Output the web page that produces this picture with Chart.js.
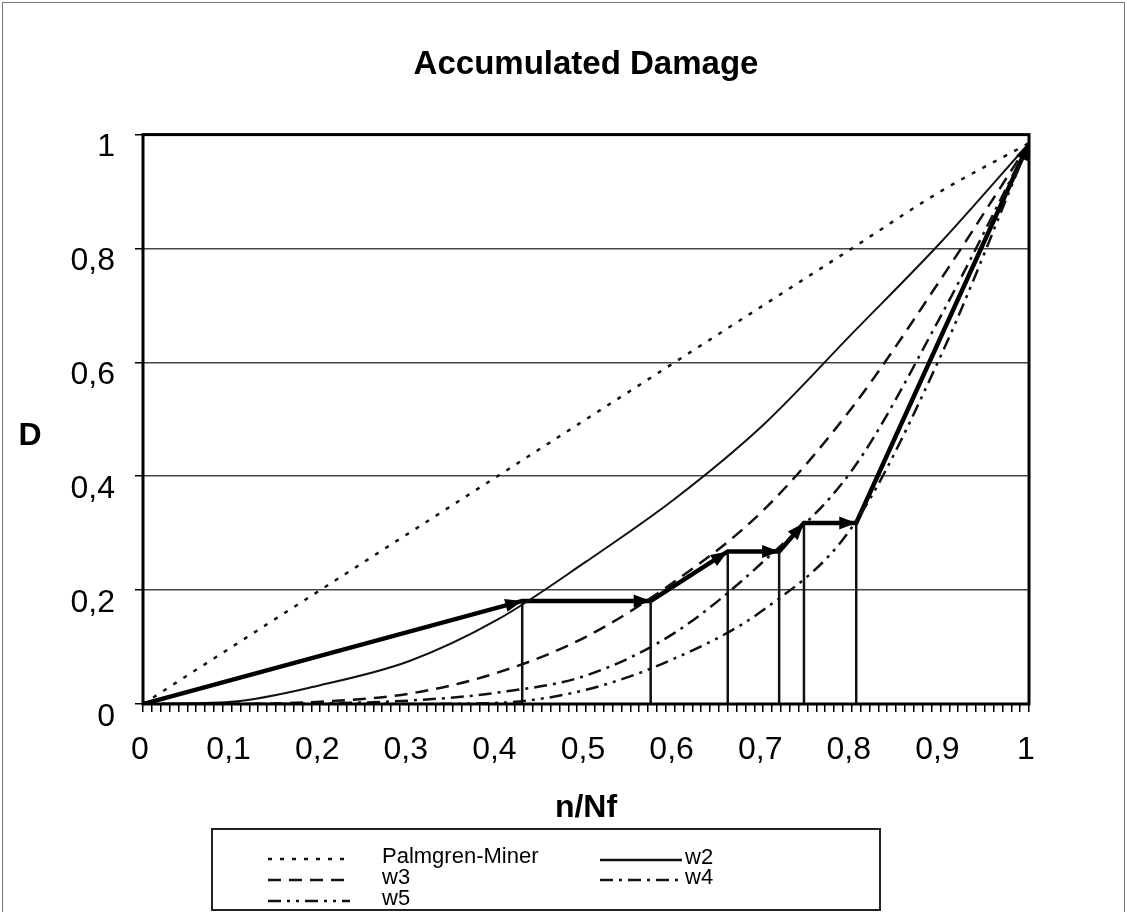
<!DOCTYPE html>
<html>
<head>
<meta charset="utf-8">
<title>Accumulated Damage</title>
<script src="https://cdn.jsdelivr.net/npm/chart.js@4.4.1/dist/chart.umd.min.js"></script>
<style>
  html, body { margin: 0; padding: 0; background: #fff; }
  #wrap { width: 1127px; height: 912px; }
</style>
</head>
<body>
<div id="wrap"><canvas id="damageChart" width="1127" height="912"></canvas></div>
<script>
// n/Nf sample points shared by the damage curves
const ratios = [0, 0.1, 0.2, 0.3, 0.4, 0.5, 0.6, 0.7, 0.8, 0.9, 1];

// damage D
const palmgrenMiner = [0, 0.1, 0.2, 0.3, 0.4, 0.5, 0.6, 0.7, 0.8, 0.9, 0.985];
const w2 = [0, 0.004, 0.033, 0.075, 0.148, 0.25, 0.36, 0.49, 0.65, 0.81, 0.985];
const w3 = [0, 0, 0.004, 0.018, 0.055, 0.118, 0.215, 0.34, 0.52, 0.745, 0.985];
const w4 = [0, 0, 0.001, 0.006, 0.02, 0.05, 0.125, 0.25, 0.41, 0.68, 0.985];
const w5 = [0, 0, 0, 0, 0.002, 0.025, 0.08, 0.165, 0.31, 0.61, 0.985];

// load sequence (bold arrows)
const pathRatios = [0, 0.428, 0.573, 0.66, 0.718, 0.746, 0.805, 1];
const pathDamage = [0, 0.181, 0.181, 0.268, 0.268, 0.318, 0.318, 0.985];

const yTicks = [0, 0.2, 0.4, 0.6, 0.8, 1];
const xMajorStep = 0.1;
const xMinorStep = 0.01;

const FONT = "'Liberation Sans', Arial, sans-serif";
const INK = '#111';

const toPoints = (xs, ys) => xs.map((x, i) => ({ x: x, y: ys[i] }));
const comma = v => {
  const r = Math.round(v * 10) / 10;
  if (r === 0) return '0';
  if (r === 1) return '1';
  return r.toFixed(1).replace('.', ',');
};

// vertical drop lines under every corner of the load path
const drops = [];
for (let i = 1; i < pathRatios.length - 1; i++) {
  drops.push({ x: pathRatios[i], y: 0 });
  drops.push({ x: pathRatios[i], y: pathDamage[i] });
  drops.push({ x: pathRatios[i], y: null });
}

const curve = (label, values, dash, width) => ({
  label: label,
  data: toPoints(ratios, values),
  showLine: true,
  borderColor: INK,
  borderWidth: width,
  borderDash: dash,
  pointRadius: 0,
  cubicInterpolationMode: 'monotone',
  inLegend: true
});

const frame = {
  id: 'frame',
  beforeDraw(chart) {
    const ctx = chart.ctx;
    ctx.save();
    ctx.fillStyle = '#fff';
    ctx.fillRect(0, 0, chart.width, chart.height);
    ctx.strokeStyle = '#777';
    ctx.lineWidth = 1;
    ctx.strokeRect(2.5, 2.5, chart.width - 5, chart.height);
    ctx.restore();
  },
  afterDatasetsDraw(chart) {
    const ctx = chart.ctx;
    const a = chart.chartArea;
    const xs = chart.scales.x, ys = chart.scales.y;
    ctx.save();

    // plot area border
    ctx.strokeStyle = '#000';
    ctx.lineWidth = 3;
    ctx.strokeRect(a.left, a.top, a.right - a.left, a.bottom - a.top);

    // arrow heads on the load path
    ctx.fillStyle = '#000';
    for (let i = 1; i < pathRatios.length; i++) {
      const x0 = xs.getPixelForValue(pathRatios[i - 1]), y0 = ys.getPixelForValue(pathDamage[i - 1]);
      const x1 = xs.getPixelForValue(pathRatios[i]), y1 = ys.getPixelForValue(pathDamage[i]);
      const ang = Math.atan2(y1 - y0, x1 - x0);
      const len = 17, half = 6.5;
      ctx.beginPath();
      ctx.moveTo(x1, y1);
      ctx.lineTo(x1 - len * Math.cos(ang) + half * Math.sin(ang), y1 - len * Math.sin(ang) - half * Math.cos(ang));
      ctx.lineTo(x1 - len * Math.cos(ang) - half * Math.sin(ang), y1 - len * Math.sin(ang) + half * Math.cos(ang));
      ctx.closePath();
      ctx.fill();
    }

    // upright y axis title
    ctx.fillStyle = '#000';
    ctx.font = 'bold 32px ' + FONT;
    ctx.textAlign = 'center';
    ctx.textBaseline = 'middle';
    ctx.fillText('D', 30, 436);

    // legend box
    ctx.strokeStyle = '#222';
    ctx.lineWidth = 2;
    ctx.strokeRect(212, 829, 668, 81);
    const slots = [
      { x: 268, y: 859 }, { x: 600, y: 860 },
      { x: 268, y: 880 }, { x: 600, y: 880 },
      { x: 268, y: 901 }
    ];
    const items = chart.data.datasets.filter(d => d.inLegend);
    ctx.font = '22px ' + FONT;
    ctx.textAlign = 'left';
    items.forEach((d, i) => {
      const s = slots[i];
      ctx.strokeStyle = INK;
      ctx.lineWidth = 2.5;
      ctx.setLineDash(d.borderDash || []);
      ctx.beginPath();
      ctx.moveTo(s.x, s.y);
      ctx.lineTo(s.x + 82, s.y);
      ctx.stroke();
      ctx.setLineDash([]);
      ctx.fillText(d.label, i % 2 === 0 ? 382 : 685, s.y - 2);
    });
    ctx.restore();
  }
};

new Chart(document.getElementById('damageChart').getContext('2d'), {
  type: 'scatter',
  data: {
    datasets: [
      curve('Palmgren-Miner', palmgrenMiner, [4, 8], 2.5),
      curve('w2', w2, [], 2),
      curve('w3', w3, [13, 8], 2.5),
      curve('w4', w4, [13, 6, 3, 6], 2.5),
      curve('w5', w5, [13, 6, 3, 6, 3, 6], 2.5),
      {
        label: 'drops',
        data: drops,
        showLine: true,
        spanGaps: false,
        borderColor: INK,
        borderWidth: 2.5,
        pointRadius: 0
      },
      {
        label: 'path',
        data: toPoints(pathRatios, pathDamage),
        showLine: true,
        borderColor: '#000',
        borderWidth: 4.5,
        pointRadius: 0
      }
    ]
  },
  options: {
    responsive: false,
    animation: false,
    layout: { padding: { top: 0, left: 0, right: 98, bottom: 84 } },
    plugins: {
      legend: { display: false },
      tooltip: { enabled: false },
      title: {
        display: true,
        text: 'Accumulated Damage',
        fullSize: false,
        color: '#000',
        font: { family: FONT, size: 33, weight: 'bold' },
        padding: { top: 45, bottom: 50 }
      }
    },
    scales: {
      x: {
        type: 'linear',
        min: 0,
        max: 1,
        ticks: {
          stepSize: xMinorStep,
          autoSkip: false,
          maxRotation: 0,
          maxTicksLimit: 200,
          padding: 19,
          labelOffset: -3,
          color: '#000',
          font: { family: FONT, size: 32 },
          callback: v => {
            const k = Math.round(v / xMinorStep);
            const per = Math.round(xMajorStep / xMinorStep);
            return k % per === 0 ? comma(v) : '';
          }
        },
        grid: { drawOnChartArea: false, tickLength: 8, tickColor: '#000', lineWidth: 1.5 },
        border: { display: false },
        title: {
          display: true,
          text: 'n/Nf',
          color: '#000',
          font: { family: FONT, size: 32, weight: 'bold' },
          padding: { top: 0, bottom: 1 }
        },
        afterFit(scale) { scale.height = 124; }
      },
      y: {
        type: 'linear',
        min: 0,
        max: 1,
        afterBuildTicks(scale) { scale.ticks = yTicks.map(v => ({ value: v })); },
        ticks: {
          padding: 20,
          labelOffset: 13,
          color: '#000',
          font: { family: FONT, size: 32 },
          callback: v => comma(v)
        },
        grid: {
          color: c => (c.tick && c.tick.value > 0 && c.tick.value < 1) ? '#444' : 'rgba(0,0,0,0)',
          lineWidth: 1.5,
          tickLength: 8,
          tickColor: '#000'
        },
        border: { display: false },
        afterFit(scale) { scale.width = 143; }
      }
    }
  },
  plugins: [frame]
});
</script>
</body>
</html>
